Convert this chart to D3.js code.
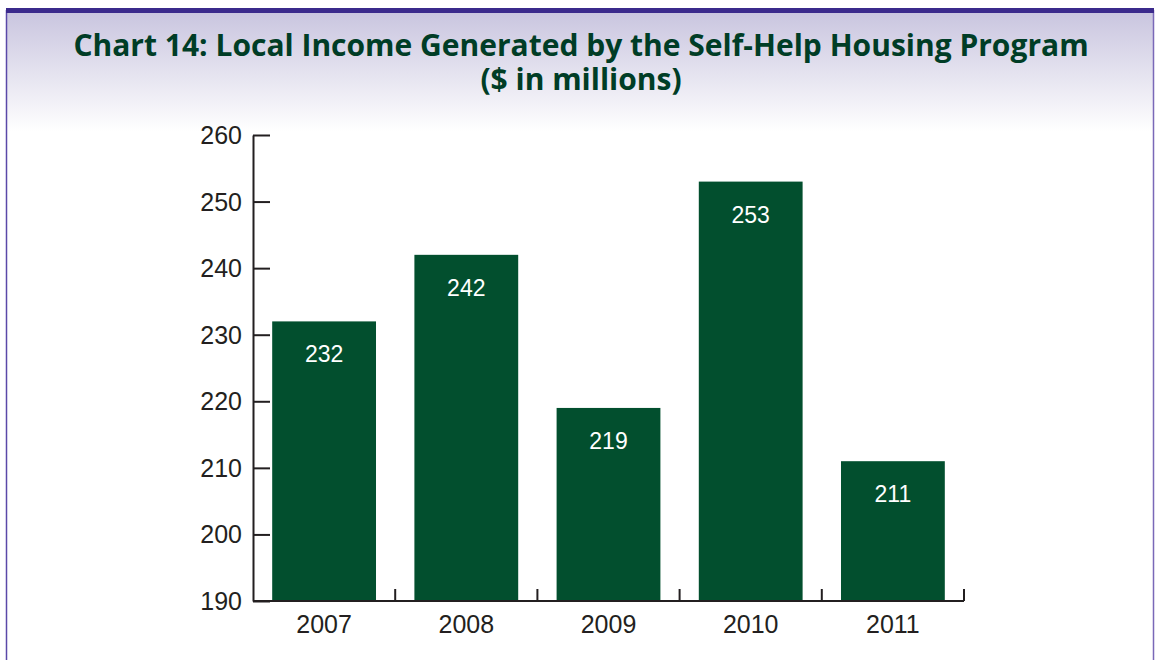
<!DOCTYPE html>
<html>
<head>
<meta charset="utf-8">
<script src="https://cdn.jsdelivr.net/npm/d3@7"></script>
<style>
  body { margin: 0; background: #fff; }
  svg { display: block; }
</style>
</head>
<body>
<svg id="chart" width="1155" height="660"></svg>
<script>
// Data
// ----
const years = ["2007", "2008", "2009", "2010", "2011"];
const income = [232, 242, 219, 253, 211];
const yTicks = [190, 200, 210, 220, 230, 240, 250, 260];

const width = 1155, height = 660;
const svg = d3.select("#chart");

// Frame with lavender gradient header
const defs = svg.append("defs");
const grad = defs.append("linearGradient")
    .attr("id", "hdr").attr("x1", 0).attr("y1", 0).attr("x2", 0).attr("y2", 1);
grad.append("stop").attr("offset", "0%").attr("stop-color", "#c9c5df");
grad.append("stop").attr("offset", "100%").attr("stop-color", "#ffffff");

svg.append("rect")
    .attr("x", 7).attr("y", 12).attr("width", 1146).attr("height", 120)
    .attr("fill", "url(#hdr)");

svg.append("line")
    .attr("x1", 6.5).attr("x2", 6.5).attr("y1", 10).attr("y2", height)
    .attr("stroke", "#5a48a8").attr("stroke-width", 1.5);
svg.append("line")
    .attr("x1", 1153.5).attr("x2", 1153.5).attr("y1", 10).attr("y2", height)
    .attr("stroke", "#7a68b8").attr("stroke-width", 1.5);
svg.append("rect")
    .attr("x", 6).attr("y", 8).attr("width", 1148).attr("height", 5)
    .attr("fill", "#3b2a8c");

// Title
const title = svg.append("text")
    .attr("x", 581).attr("text-anchor", "middle")
    .attr("font-family", "'Open Sans', 'DejaVu Sans', sans-serif")
    .attr("font-weight", "bold")
    .attr("font-size", 30)
    .attr("fill", "#003d26");
title.append("tspan").attr("x", 581).attr("y", 56)
    .text("Chart 14: Local Income Generated by the Self-Help Housing Program");
title.append("tspan").attr("x", 581).attr("y", 90)
    .text("($ in millions)");

// Scales
const margin = { left: 253, right: 964, top: 135, bottom: 601 };
const x = d3.scaleBand()
    .domain(years)
    .range([margin.left, margin.right])
    .paddingInner(0.27)
    .paddingOuter(0.135);
const y = d3.scaleLinear()
    .domain([190, 260])
    .range([margin.bottom, margin.top]);

const font = "'Liberation Sans', Arial, sans-serif";

// Bars
svg.selectAll("rect.bar")
    .data(years)
    .join("rect")
    .attr("class", "bar")
    .attr("x", d => x(d))
    .attr("width", x.bandwidth())
    .attr("y", (d, i) => y(income[i]))
    .attr("height", (d, i) => y(190) - y(income[i]))
    .attr("fill", "#024f2e");

svg.selectAll("text.val")
    .data(years)
    .join("text")
    .attr("class", "val")
    .attr("x", d => x(d) + x.bandwidth() / 2)
    .attr("y", (d, i) => y(income[i]) + 41)
    .attr("text-anchor", "middle")
    .attr("font-family", font)
    .attr("font-size", 23)
    .attr("fill", "#ffffff")
    .text((d, i) => income[i]);

// Y axis (ticks pointing inward)
const yAxis = svg.append("g")
    .attr("transform", `translate(${margin.left},0)`)
    .call(d3.axisRight(y).tickValues(yTicks).tickSize(17).tickSizeOuter(0).tickFormat(""));
yAxis.selectAll("path, line").attr("stroke", "#231f20").attr("stroke-width", 2);

svg.selectAll("text.ytick")
    .data(yTicks)
    .join("text")
    .attr("class", "ytick")
    .attr("x", 242)
    .attr("y", d => y(d) + 9)
    .attr("text-anchor", "end")
    .attr("font-family", font)
    .attr("font-size", 25)
    .attr("fill", "#231f20")
    .text(d => d);

// X axis: baseline plus upward ticks at category boundaries
const step = x.step();
const boundaries = d3.range(1, years.length + 1).map(i => margin.left + i * step);
svg.append("line")
    .attr("x1", margin.left).attr("x2", margin.right)
    .attr("y1", y(190)).attr("y2", y(190))
    .attr("stroke", "#231f20").attr("stroke-width", 2);
svg.selectAll("line.xtick")
    .data(boundaries)
    .join("line")
    .attr("class", "xtick")
    .attr("x1", d => d).attr("x2", d => d)
    .attr("y1", y(190)).attr("y2", y(190) - 12)
    .attr("stroke", "#231f20").attr("stroke-width", 2);

svg.selectAll("text.xlab")
    .data(years)
    .join("text")
    .attr("class", "xlab")
    .attr("x", d => x(d) + x.bandwidth() / 2)
    .attr("y", 633)
    .attr("text-anchor", "middle")
    .attr("font-family", font)
    .attr("font-size", 25)
    .attr("fill", "#231f20")
    .text(d => d);
</script>
</body>
</html>
